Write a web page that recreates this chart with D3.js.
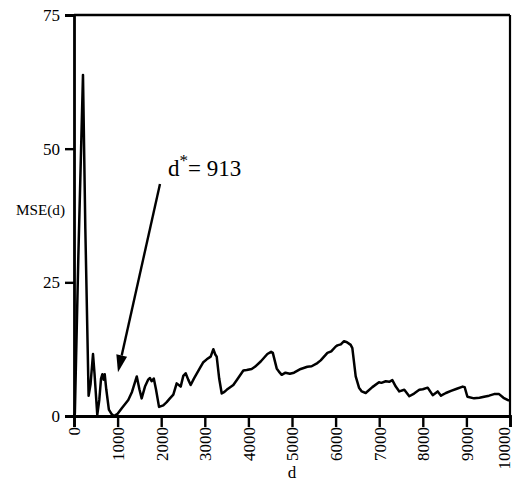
<!DOCTYPE html>
<html><head><meta charset="utf-8">
<script src="https://cdn.jsdelivr.net/npm/d3@7"></script>
<style>body{margin:0;background:#fff}svg{display:block}</style>
</head><body>
<svg id="chart" width="514" height="493"></svg>
<script>
const dValues = [0,20,100,206,260,335,380,436,470,534,580,620,650,680,705,740,800,860,913,1000,1100,1245,1330,1440,1500,1552,1628,1700,1743,1780,1830,1880,1950,2048,2126,2200,2278,2355,2447,2507,2561,2620,2676,2750,2890,2960,3044,3135,3196,3240,3273,3330,3388,3450,3502,3654,3731,3884,3961,4075,4150,4282,4435,4520,4560,4649,4700,4764,4850,4950,5046,5200,5352,5450,5582,5658,5812,5900,6003,6041,6120,6193,6260,6346,6384,6461,6537,6600,6690,6843,6995,7050,7150,7230,7301,7380,7461,7576,7690,7800,7920,8000,8112,8227,8342,8417,8530,8647,8780,8915,8960,9023,9176,9300,9406,9520,9635,9750,9850,9943,10000];
const mseValues = [0,0.5,30,63.8,35,3.8,6,11.6,8,0.2,3,7,7.8,6.8,7.8,5,1.2,0.4,0,0.4,1.5,3,4.5,7.4,5,3.3,5.5,6.8,7.1,6.5,7.0,5,1.7,2,2.6,3.3,4,6.1,5.5,7.5,8,6.8,5.8,7,9,10,10.6,11.1,12.5,11.5,11.1,7,4.2,4.5,4.9,5.8,6.7,8.5,8.6,8.8,9.2,10.2,11.6,12.0,11.8,8.9,8.3,7.7,8.1,7.9,8.1,8.8,9.2,9.3,9.9,10.4,11.8,12.1,13.0,13.2,13.4,14.0,13.8,13.3,12.7,7.4,5.3,4.6,4.3,5.4,6.3,6.2,6.5,6.4,6.7,5.5,4.6,4.9,3.7,4.2,4.9,5.0,5.3,3.9,4.6,3.8,4.3,4.7,5.1,5.5,5.4,3.6,3.3,3.4,3.6,3.8,4.1,4.1,3.4,3.0,2.9];
const xTicks = [0,1000,2000,3000,4000,5000,6000,7000,8000,9000,10000];
const yTicks = [0,25,50,75];
const annotationText = ["d", "*", "= 913"];
const arrowFrom = [1972, 43.4];
const arrowTo = [1009, 8.2];
const textAt = [2156, 44.8];

const svg = d3.select("#chart");
const m = {left:74, right:4, top:15, bottom:77};
const W = 514, H = 493;
const x = d3.scaleLinear().domain([0,10000]).range([m.left, W-m.right]);
const y = d3.scaleLinear().domain([0,75]).range([H-m.bottom, m.top]);
const font = "'Liberation Serif', 'Times New Roman', serif";

// frame top & right
svg.append("line").attr("x1", x(0)).attr("x2", x(10000)).attr("y1", y(75)).attr("y2", y(75))
  .attr("stroke","#000").attr("stroke-width",2.4);
svg.append("line").attr("x1", x(10000)).attr("x2", x(10000)).attr("y1", y(75)).attr("y2", y(0))
  .attr("stroke","#000").attr("stroke-width",2.2);

// data line
const line = d3.line().x((d,i)=>x(dValues[i])).y((d,i)=>y(mseValues[i]));
svg.append("path").datum(mseValues).attr("d", line)
  .attr("fill","none").attr("stroke","#000").attr("stroke-width",2.5).attr("stroke-linejoin","round");

// y axis
const ya = svg.append("g").attr("transform",`translate(${m.left},0)`)
  .call(d3.axisLeft(y).tickValues(yTicks).tickSize(9).tickPadding(5).tickFormat(d3.format("d")));
ya.attr("font-family", null);
ya.select(".domain").attr("stroke-width",2.8);
ya.selectAll(".tick line").attr("stroke-width",2.4);
ya.selectAll(".tick text").style("font-family",font).style("font-size","17px").attr("fill","#000");

// x axis
const xa = svg.append("g").attr("transform",`translate(0,${H-m.bottom})`)
  .call(d3.axisBottom(x).tickValues(xTicks).tickSize(11).tickPadding(2).tickFormat(d3.format("d")));
xa.attr("font-family", null);
xa.select(".domain").attr("stroke-width",2.8);
xa.selectAll(".tick line").attr("stroke-width",2.4);
xa.selectAll(".tick text").style("font-family",font).style("font-size","17px").attr("fill","#000")
  .attr("transform","rotate(-90)").attr("text-anchor","end")
  .attr("x",-11).attr("y",d => d === 10000 ? -6 : 0).attr("dy","0.35em");

// axis titles
svg.append("text").attr("x", (x(0)+x(10000))/2).attr("y", 478).attr("text-anchor","middle")
  .style("font-family",font).style("font-size","17px").text("d");
svg.append("text").attr("x", 16).attr("y", 215)
  .style("font-family",font).style("font-size","15px").attr("textLength",49).attr("lengthAdjust","spacingAndGlyphs").text("MSE(d)");

// annotation
const t = svg.append("text").attr("x", x(textAt[0])).attr("y", y(textAt[1]))
  .style("font-family",font).style("font-size","23px");
t.append("tspan").text(annotationText[0]);
t.append("tspan").attr("dy",-10).style("font-size","17px").text(annotationText[1]);
t.append("tspan").attr("dy",10).text(annotationText[2]);

// arrow
const x1 = x(arrowFrom[0]), y1 = y(arrowFrom[1]), x2 = x(arrowTo[0]), y2 = y(arrowTo[1]);
const ang = Math.atan2(y2-y1, x2-x1);
const hl = 17, hw = 5.5;
const bx = x2 - hl*Math.cos(ang), by = y2 - hl*Math.sin(ang);
svg.append("line").attr("x1",x1).attr("y1",y1).attr("x2",bx).attr("y2",by)
  .attr("stroke","#000").attr("stroke-width",2.4);
svg.append("path").attr("d", `M${x2},${y2}L${bx - hw*Math.sin(ang)},${by + hw*Math.cos(ang)}L${bx + hw*Math.sin(ang)},${by - hw*Math.cos(ang)}Z`)
  .attr("fill","#000");
</script>
</body></html>
